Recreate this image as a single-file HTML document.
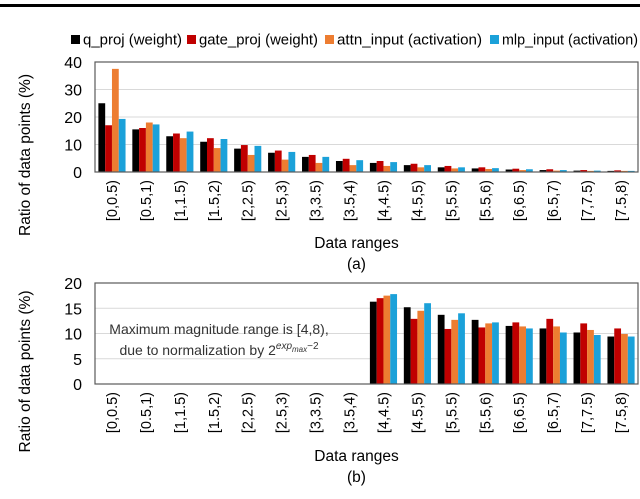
<!DOCTYPE html>
<html><head><meta charset="utf-8"><style>
body{margin:0;background:#fff;width:640px;height:494px;overflow:hidden;font-family:"Liberation Sans",sans-serif}
</style></head><body>
<svg id="c" width="640" height="494" xmlns="http://www.w3.org/2000/svg" font-family="Liberation Sans, sans-serif">
<rect x="0" y="4" width="640" height="3" fill="#000"/>
</svg>
<script>
const categories=["[0,0.5)","[0.5,1)","[1,1.5)","[1.5,2)","[2,2.5)","[2.5,3)","[3,3.5)","[3.5,4)","[4,4.5)","[4.5,5)","[5,5.5)","[5.5,6)","[6,6.5)","[6.5,7)","[7,7.5)","[7.5,8)"];
const seriesNames=["q_proj (weight)","gate_proj (weight)","attn_input (activation)","mlp_input (activation)"];
const seriesColors=["#000000","#c00000","#ed7d31","#1ba1d9"];
const aQ=[25,15.5,13,11,8.5,7,5.5,4,3.3,2.5,1.7,1.3,0.9,0.7,0.5,0.4];
const aGate=[17,16,14,12.3,9.8,7.8,6.2,4.8,4,3,2.2,1.7,1.2,1,0.7,0.6];
const aAttn=[37.5,18,12.3,8.7,6.2,4.5,3.3,2.5,2.2,1.7,1.3,1.1,0.7,0.5,0.4,0.4];
const aMlp=[19.3,17.3,14.7,12,9.5,7.3,5.5,4.3,3.6,2.5,1.7,1.4,1,0.7,0.5,0.4];
const bQ=[0,0,0,0,0,0,0,0,16.3,15.2,13.7,12.7,11.5,11,10.2,9.4];
const bGate=[0,0,0,0,0,0,0,0,17,12.9,10.9,11.2,12.2,12.9,12,11];
const bAttn=[0,0,0,0,0,0,0,0,17.5,14.5,12.7,12,11.4,11.4,10.7,9.9];
const bMlp=[0,0,0,0,0,0,0,0,17.8,16,14,12.2,11,10.2,9.7,9.4];
const aTicks=[0,10,20,30,40];
const bTicks=[0,5,10,15,20];

const svg=document.getElementById('c');
const NS='http://www.w3.org/2000/svg';
function mk(tag,attrs,parent){const e=document.createElementNS(NS,tag);for(const k in attrs)e.setAttribute(k,attrs[k]);(parent||svg).appendChild(e);return e;}
function txt(s,attrs,parent){const e=mk('text',attrs,parent);e.textContent=s;return e;}

// legend
const legX=[71,187,325,490];
const legW=[99,119,145,136];
seriesNames.forEach((n,i)=>{
  const r=mk('rect',{x:legX[i],y:35,width:9,height:9,fill:seriesColors[i]});
  
  
  const t=txt(n,{x:legX[i]+12,y:44.5,'font-size':14.5,fill:'#000',textLength:legW[i],lengthAdjust:'spacingAndGlyphs'});
  
  
});

function panel(cfg){
  const {x0,x1,yTop,yBot,max,ticks,series,label,tag}=cfg;
  const g=mk('g',{});
  
  
  const yS=v=>yBot-(v/max)*(yBot-yTop);
  const gw=(x1-x0)/categories.length;
  ticks.forEach(t=>{
    const y=yS(t);
    if(t>0){const l=mk('line',{x1:x0,x2:x1,y1:y,y2:y,stroke:'#d9d9d9','stroke-width':1},g);
    
    }
    const tl=txt(String(t),{x:x0-13,y:y+6,'font-size':16,'text-anchor':'end',fill:'#000'},g);
    
    
  });
  const bw=gw*0.2, off=gw*0.1;
  categories.forEach((c,ci)=>{
    series.forEach((s,si)=>{
      const v=s[ci]; if(v<=0) return;
      const y=yS(v);
      const b=mk('rect',{x:x0+ci*gw+off+si*bw,y:y,width:bw,height:yBot-y,fill:seriesColors[si]},g);
      
      
    });
    const cx=x0+ci*gw+gw/2+5;
    const t=txt(c,{x:cx,y:yBot+8,'font-size':14.5,'text-anchor':'end',fill:'#000',transform:`rotate(-90 ${cx} ${yBot+8})`},g);
    
    
  });
  const f=mk('rect',{x:x0,y:yTop,width:x1-x0,height:yBot-yTop,fill:'none',stroke:'#595959','stroke-width':1.2},g);
  
  
  const ym=(yTop+yBot)/2+38;
  const yt=txt('Ratio of data points (%)',{x:30,y:ym,'font-size':15.5,'text-anchor':'middle',fill:'#000',transform:`rotate(-90 30 ${ym})`},g);
  
  
  const xt=txt('Data ranges',{x:(x0+x1)/2-10,y:label,'font-size':15.5,'text-anchor':'middle',fill:'#000'},g);
  
  
  const cap=txt('('+tag+')',{x:(x0+x1)/2-10,y:label+21,'font-size':15.5,'text-anchor':'middle',fill:'#000'},g);
  
  
}
panel({x0:95,x1:638,yTop:62,yBot:172,max:40,ticks:aTicks,series:[aQ,aGate,aAttn,aMlp],label:248,tag:'a'});
panel({x0:95,x1:638,yTop:283,yBot:384,max:20,ticks:bTicks,series:[bQ,bGate,bAttn,bMlp],label:461,tag:'b'});

const n1=txt('Maximum magnitude range is [4,8),',{x:219,y:334,'font-size':14,'text-anchor':'middle',fill:'#333'});


const n2=mk('text',{x:219,y:355,'font-size':14,'text-anchor':'middle',fill:'#333'});


n2.innerHTML='due to normalization by 2<tspan dy="-6" font-size="10" font-style="italic">exp</tspan><tspan dy="3" font-size="8" font-style="italic">max</tspan><tspan dy="-3" font-size="10">−2</tspan>';
</script>
</body></html>
